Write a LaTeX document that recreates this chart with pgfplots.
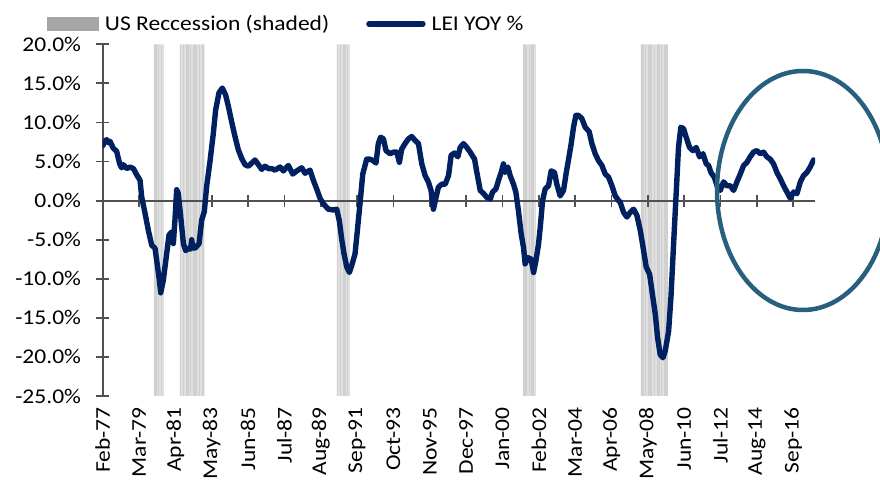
\documentclass[border=0pt]{standalone}
\usepackage{pgfplots}
\usepackage{pgfplotstable}
\pgfplotsset{compat=1.18}
\usepackage{fontspec}
\setmainfont{Carlito}[FakeStretch=1.12]
\definecolor{lei}{HTML}{002060}
\definecolor{axgray}{HTML}{505050}
\definecolor{ring}{HTML}{285E7E}
\definecolor{recfill}{HTML}{D0D0D0}
\definecolor{recleg}{HTML}{A6A6A6}
\newcommand{\fs}{\fontsize{21bp}{25bp}\selectfont}
\pgfplotstableread{
m hi lo
35.5 20 -25
36.5 20 -25
37.5 20 -25
38.5 20 -25
39.5 20 -25
40.5 20 -25
41.5 20 -25
53.5 20 -25
54.5 20 -25
55.5 20 -25
56.5 20 -25
57.5 20 -25
58.5 20 -25
59.5 20 -25
60.5 20 -25
61.5 20 -25
62.5 20 -25
63.5 20 -25
64.5 20 -25
65.5 20 -25
66.5 20 -25
67.5 20 -25
68.5 20 -25
69.5 20 -25
161.5 20 -25
162.5 20 -25
163.5 20 -25
164.5 20 -25
165.5 20 -25
166.5 20 -25
167.5 20 -25
168.5 20 -25
169.5 20 -25
289.5 20 -25
290.5 20 -25
291.5 20 -25
292.5 20 -25
293.5 20 -25
294.5 20 -25
295.5 20 -25
296.5 20 -25
297.5 20 -25
370.5 20 -25
371.5 20 -25
372.5 20 -25
373.5 20 -25
374.5 20 -25
375.5 20 -25
376.5 20 -25
377.5 20 -25
378.5 20 -25
379.5 20 -25
380.5 20 -25
381.5 20 -25
382.5 20 -25
383.5 20 -25
384.5 20 -25
385.5 20 -25
386.5 20 -25
387.5 20 -25
388.5 20 -25
}\rec
\begin{document}
\begin{tikzpicture}
\path[use as bounding box] (0,0) rectangle (880bp,484bp);
\begin{scope}
\clip (0,0) rectangle (880bp,484bp);
\begin{axis}[
 at={(102.7bp,88bp)}, anchor=south west, scale only axis,
 width=712.3bp, height=351.7bp,
 xmin=0, xmax=490, ymin=-25, ymax=20,
 axis y line*=left, axis x line*=bottom,
 x axis line style={draw=none},
 y axis line style={draw=axgray, line width=2bp},
 xtick={0,25,...,475},
 xticklabels={Feb-77,Mar-79,Apr-81,May-83,Jun-85,Jul-87,Aug-89,Sep-91,Oct-93,Nov-95,Dec-97,Jan-00,Feb-02,Mar-04,Apr-06,May-08,Jun-10,Jul-12,Aug-14,Sep-16},
 xtick style={draw=none},
 ytick={-25,-20,...,20},
 yticklabels={-25.0\%,-20.0\%,-15.0\%,-10.0\%,-5.0\%,0.0\%,5.0\%,10.0\%,15.0\%,20.0\%},
 ytick style={draw=axgray, line width=1.8bp},
 ytick align=center, major tick length=13bp,
 tick label style={font=\fs, text=black},
 xticklabel style={yshift=-11bp, rotate=90, anchor=east, inner sep=0pt},
 yticklabel style={anchor=east, inner sep=0pt, xshift=-15bp},
 legend columns=2,
 legend style={at={(axis description cs:-0.0782,1.058)}, anchor=west, draw=none, fill=none,
   inner sep=0pt, outer sep=0pt, font=\fs, nodes={inner sep=0pt},
   /tikz/every odd column/.append style={column sep=6bp},
   /tikz/every even column/.append style={column sep=37bp}},
]
\addplot[ybar, bar width=0.72, bar shift=0pt, fill=recfill, draw=none,
  legend image code/.code={\fill[recleg] (0bp,-7bp) rectangle (52bp,7bp);}]
  table[x=m, y=hi] {\rec};
\addlegendentry{US Reccession (shaded)}
\addplot[ybar, bar width=0.72, bar shift=0pt, fill=recfill, draw=none, forget plot]
  table[x=m, y=lo] {\rec};
\draw[axgray, line width=2bp] (axis cs:0,0) -- (axis cs:490,0);
\pgfplotsinvokeforeach{0,25,50,75,100,125,150,175,200,225,250,275,300,325,350,375,400,425,450,475}{
  \draw[axgray, line width=1.8bp] ([yshift=-6bp]axis cs:#1,0) -- ([yshift=6bp]axis cs:#1,0);
}
\addplot[lei, line width=5.4bp, line join=round, line cap=round, mark=none,
  legend image code/.code={\draw[lei, line width=5.4bp] (0bp,0bp) -- (54bp,0bp);}]
coordinates {
(0,7.0)(1.5,7.6)(2.7,7.8)(4,7.4)(5,7.6)(7.3,6.7)(9.6,6.3)(11,5.2)(11.9,4.6)(13,4.2)(14.2,4.6)(16.5,4.1)(18.8,4.3)(21.1,4.1)(23.4,3.3)(25.7,2.6)(26.8,0.5)(29.1,-1.6)(31.4,-3.8)(33.7,-5.7)(36,-6.1)(37.1,-7.6)(39,-10.2)(39.9,-11.8)(41.7,-10.2)(44,-6.8)(45.6,-4.4)(47.5,-4.0)(48.6,-5.5)(49.7,-2.5)(50.9,1.4)(52,0.9)(53.9,-2.5)(55.5,-5.5)(57.1,-6.4)(58.9,-6.1)(60.5,-6.2)(61.2,-5.0)(62,-6.0)(63.5,-6.1)(66.3,-5.5)(68.1,-2.5)(69.9,-1.4)(71.5,1.8)(73.8,5.0)(76.1,8.6)(77.7,11.6)(80,13.8)(82.3,14.4)(84.6,13.5)(86.4,12.1)(88.7,10.1)(91,8.2)(93.3,6.5)(95.6,5.4)(97.9,4.6)(100.2,4.4)(102.5,4.8)(104.8,5.2)(107.1,4.6)(109.4,4.0)(111.7,4.4)(114,4.1)
(116.3,4.1)(118.5,3.9)(122,4.3)(124.3,3.8)(127.7,4.5)(130.7,3.4)(133.5,3.8)(136.9,4.2)(139.2,3.5)(142.6,3.9)(144.9,2.6)(147.2,1.5)(149.5,0.3)(151.8,-0.4)(155.2,-1.1)(158.7,-1.2)(161,-1.1)(162.8,-2.6)(164.4,-4.9)(166,-6.8)(167.9,-8.5)(169.7,-9.2)(171.3,-8.3)(173.6,-6.8)(175.2,-3.8)(177,-0.4)(178.9,3.4)(181.6,5.3)(183.9,5.3)(186.2,5.1)(188,4.8)(189.6,7.3)(191.2,8.1)(193.1,7.9)(194.9,6.4)(197.7,6.0)(200,6.2)(202.3,6.2)(204.1,4.9)(205.7,6.6)(208,7.3)(210.3,7.9)(212.6,8.2)(214.9,7.7)(217.2,7.3)(219.5,4.7)(221.8,3.2)(224,2.4)(225.9,1.3)(227.5,-1.1)(229.3,0.4)(230.9,1.7)(233.2,2.1)
(235.6,2.1)(237.9,3.2)(239.7,5.8)(242,6.1)(244.3,5.6)(245.9,6.8)(248.2,7.3)(250.5,6.8)(252.8,6.2)(255.8,5.3)(257.4,3.6)(259.7,1.3)(262,0.9)(264.3,0.4)(266.6,0.2)(268.2,1.1)(270.5,1.5)(272.3,2.6)(274.1,3.6)(275.7,4.7)(276.9,3.6)(278.7,4.3)(280.3,3.2)(282.6,2.1)(284.2,1.1)(286,-1.3)(287.9,-4.3)(289.5,-6.0)(290.6,-8.1)(292.5,-7.3)(294.8,-7.5)(296.4,-9.2)(298,-7.7)(299.8,-5.6)(301,-3.4)(302.6,0)(304.4,1.5)(306.7,1.9)(308.5,3.8)(310.8,3.6)(312.4,2.1)(314.7,0.6)(317,1.3)(318.9,3.6)(320.5,5.3)(322.3,7.3)(323.9,9.4)(325.5,10.9)(327.3,10.9)(329.6,10.5)(331.9,9.4)(334.7,8.8)(336.5,7.3)(338.8,6.0)(341.1,5.1)(343.4,4.5)(345.7,3.4)(348,3.0)(350.3,1.9)(352.6,0.6)(354.9,0)
(356,-0.2)(358.3,-1.5)(360.6,-2.1)(362.9,-1.5)(365.2,-1.1)(367.5,-1.9)(369.8,-3.8)(372.1,-6.4)(373.9,-8.5)(376.2,-9.4)(377.8,-11.5)(380.1,-14.5)(381.7,-17.5)(383.5,-19.7)(385.4,-20.1)(387,-19.2)(389.3,-16.7)(390.9,-12.4)(392.7,-5.6)(394.5,0.9)(396.1,6.8)(397.7,9.4)(399.6,9.2)(401.4,8.1)(403.7,6.8)(406,6.4)(408.3,6.8)(410.6,5.6)(412.9,6.0)(415.2,4.7)(416.8,4.5)(418.4,3.6)(420.7,3.0)(423,1.7)(424.8,1.3)(427.1,2.4)(429.4,1.9)(431.7,1.9)(434,1.3)(436.3,2.4)(438.6,3.4)(440.9,4.5)(443.2,4.9)(445.4,5.6)(447.7,6.2)(450,6.4)(452.3,6.0)(454.6,6.2)(456.9,5.6)(459.2,5.3)(461.5,4.7)(463.8,3.6)(466.1,2.8)(468.4,1.9)(470.7,1.1)(473,0.3)(475.3,1.1)(477.6,0.9)(479.9,2.4)(482.1,3.2)(484.4,3.6)(486.7,4.3)(489,5.2)
};
\addlegendentry{LEI YOY \%}
\end{axis}
\draw[ring, line width=4.5bp] (803bp,293.5bp) ellipse [x radius=86bp, y radius=119.5bp];
\end{scope}
\end{tikzpicture}
\end{document}
